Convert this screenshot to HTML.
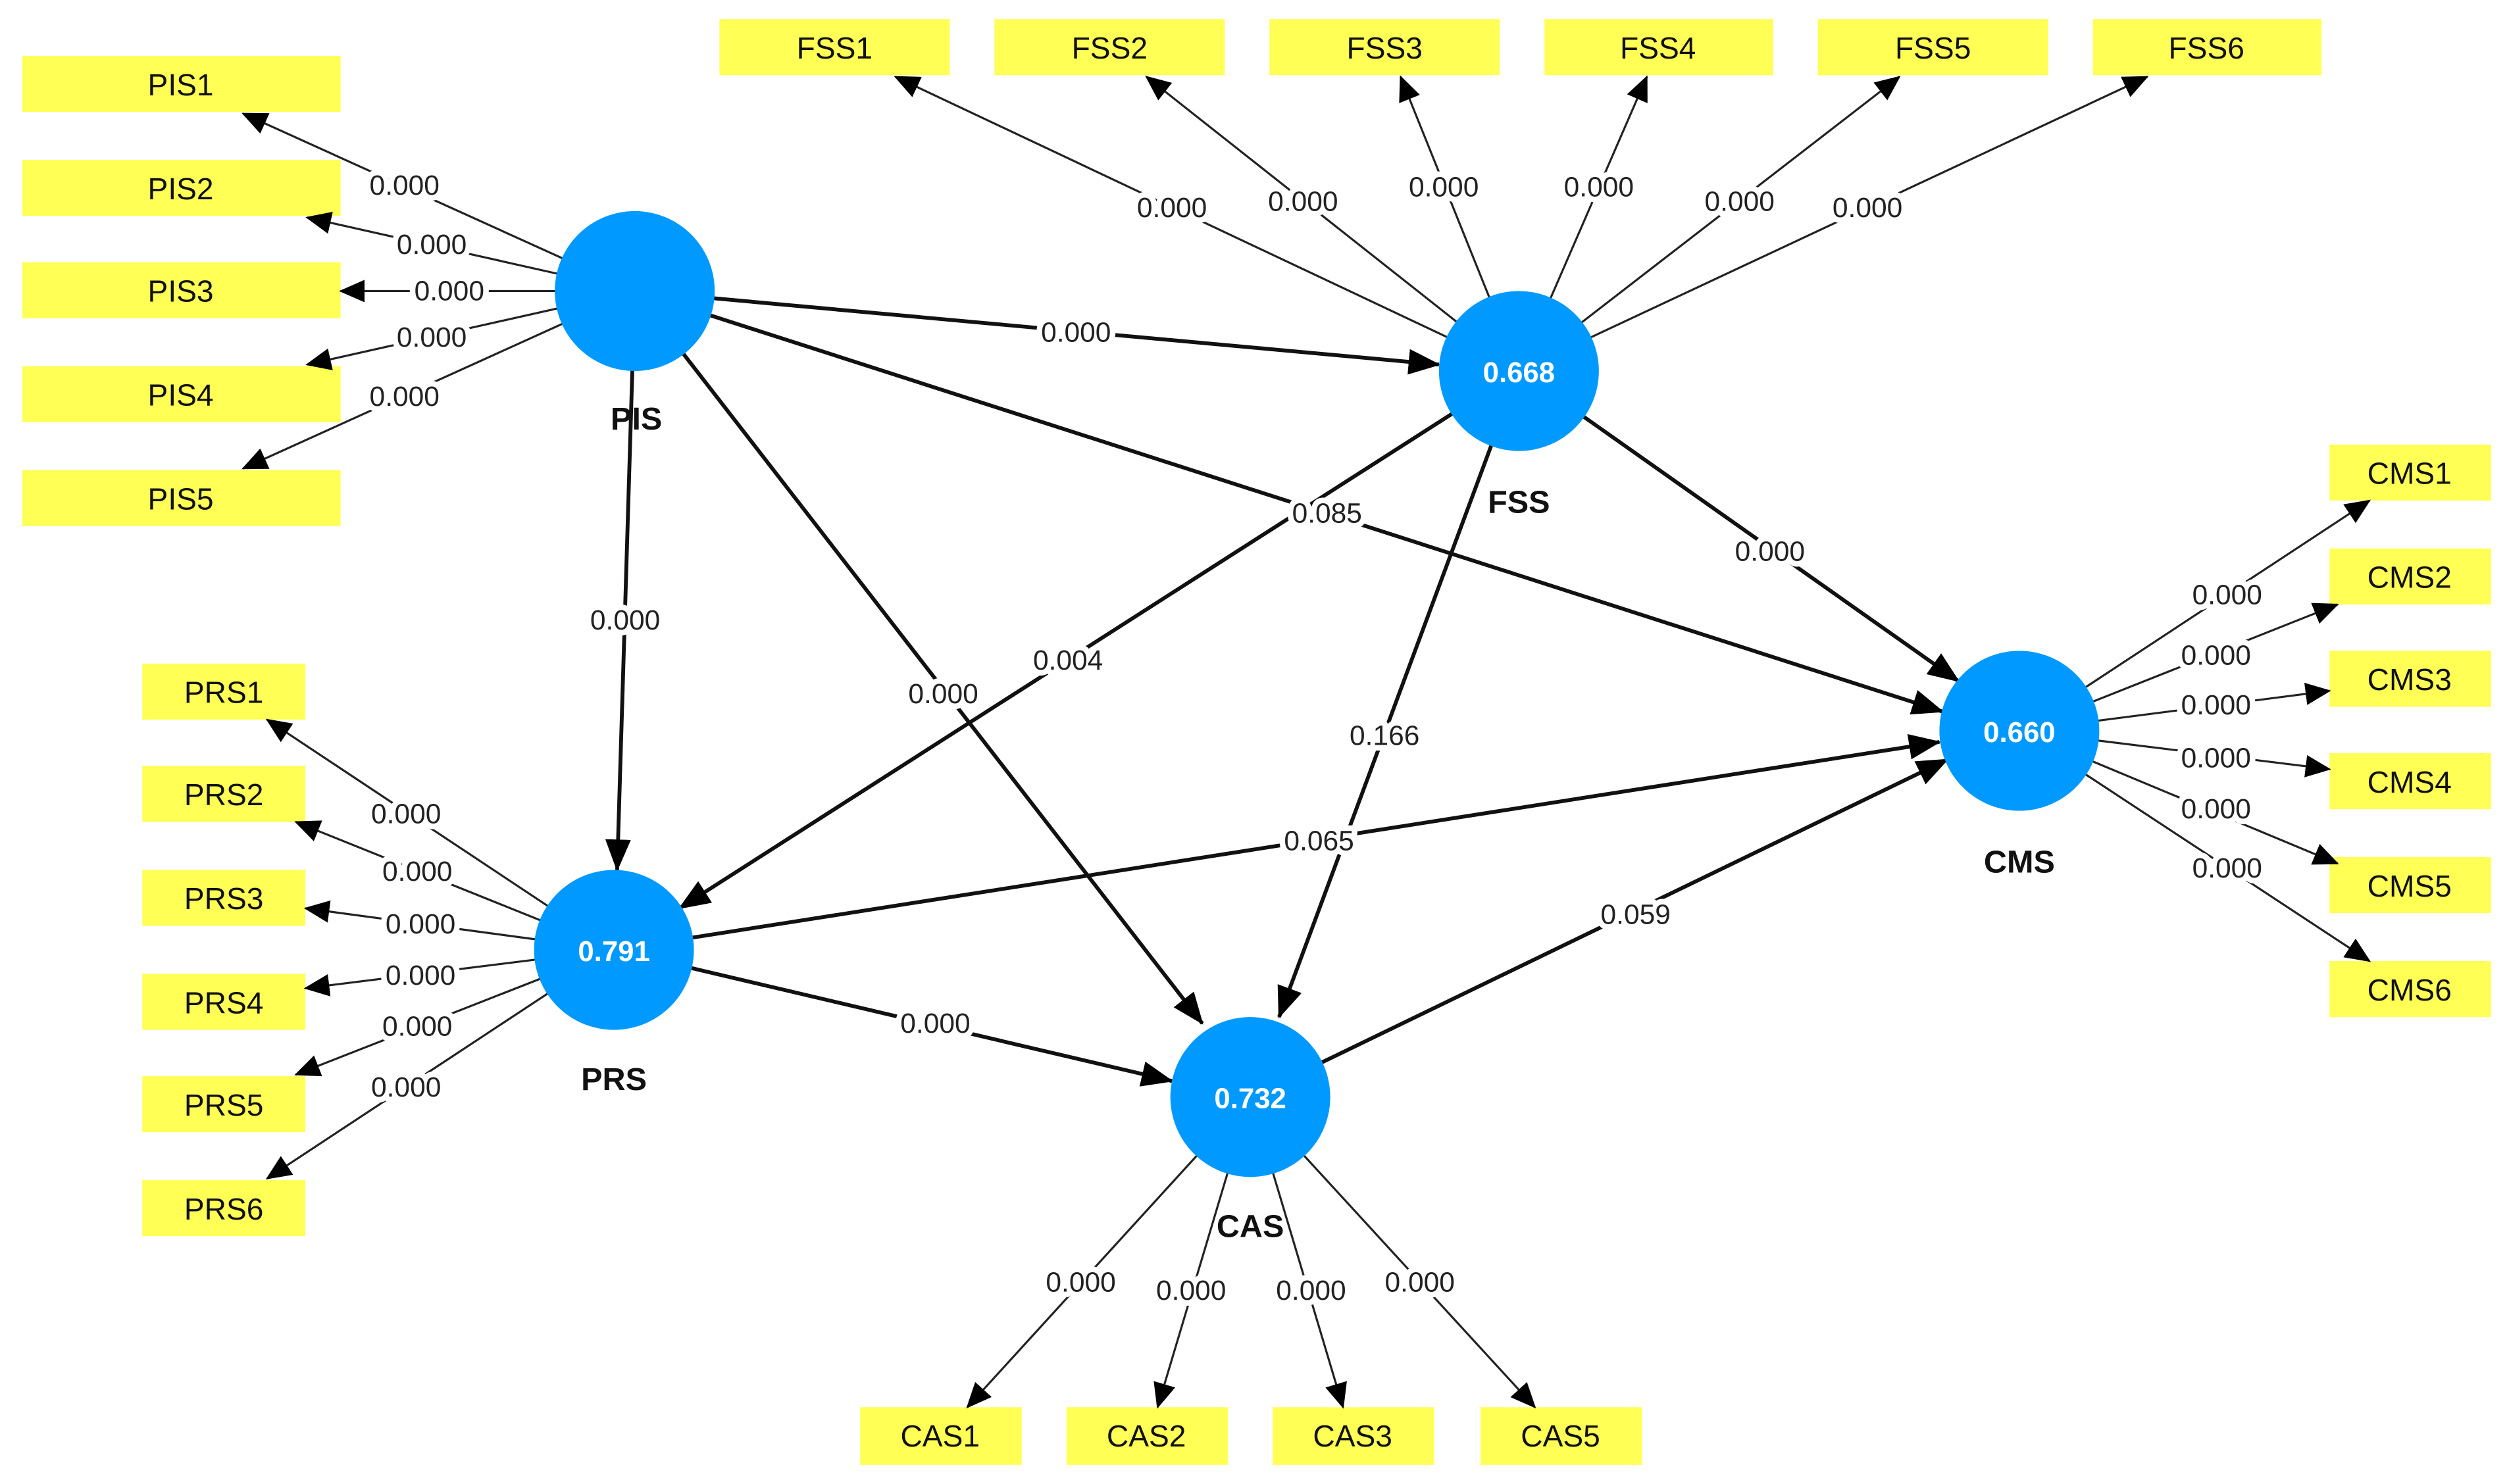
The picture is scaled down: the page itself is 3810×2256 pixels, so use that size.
<!DOCTYPE html>
<html><head><meta charset="utf-8"><style>
html,body{margin:0;padding:0;background:#fff;}
svg{display:block;}
text{font-family:"Liberation Sans",sans-serif;}
.l{font-size:17.5px;fill:#222;text-anchor:middle;dominant-baseline:central;paint-order:stroke;stroke:#fff;stroke-width:7px;stroke-linejoin:round;}
.b{font-size:19px;fill:#111;text-anchor:middle;dominant-baseline:central;}
.n{font-size:20px;font-weight:bold;fill:#111;text-anchor:middle;dominant-baseline:central;}
.c{font-size:18px;font-weight:bold;fill:#fff;text-anchor:middle;dominant-baseline:central;}
.t{stroke:#222;stroke-width:1.3;marker-end:url(#a);fill:none;}
.s{stroke:#111;stroke-width:2.4;marker-end:url(#A);fill:none;}
rect{fill:#ffff55;}
</style></head><body>
<svg width="3810" height="2256" viewBox="0 0 1568 928" preserveAspectRatio="none" xmlns="http://www.w3.org/2000/svg">
<defs>
<marker id="a" markerUnits="userSpaceOnUse" markerWidth="16" markerHeight="14" refX="15" refY="7" orient="auto"><path d="M0,0 L16,7 L0,14 z" fill="#000"/></marker>
<marker id="A" markerUnits="userSpaceOnUse" markerWidth="20" markerHeight="16" refX="19" refY="8" orient="auto"><path d="M0,0 L20,8 L0,16 z" fill="#000"/></marker>
</defs>
<!-- boxes -->
<rect x="14" y="35" width="199" height="35"/><text class="b" x="113" y="53">PIS1</text>
<rect x="14" y="100" width="199" height="35"/><text class="b" x="113" y="118">PIS2</text>
<rect x="14" y="164" width="199" height="35"/><text class="b" x="113" y="182">PIS3</text>
<rect x="14" y="229" width="199" height="35"/><text class="b" x="113" y="247">PIS4</text>
<rect x="14" y="294" width="199" height="35"/><text class="b" x="113" y="312">PIS5</text>
<rect x="450" y="12" width="144" height="35"/><text class="b" x="522" y="30">FSS1</text>
<rect x="622" y="12" width="144" height="35"/><text class="b" x="694" y="30">FSS2</text>
<rect x="794" y="12" width="144" height="35"/><text class="b" x="866" y="30">FSS3</text>
<rect x="966" y="12" width="143" height="35"/><text class="b" x="1037" y="30">FSS4</text>
<rect x="1137" y="12" width="144" height="35"/><text class="b" x="1209" y="30">FSS5</text>
<rect x="1309" y="12" width="143" height="35"/><text class="b" x="1380" y="30">FSS6</text>
<rect x="1457" y="278" width="101" height="35"/><text class="b" x="1507" y="296">CMS1</text>
<rect x="1457" y="343" width="101" height="35"/><text class="b" x="1507" y="361">CMS2</text>
<rect x="1457" y="407" width="101" height="35"/><text class="b" x="1507" y="425">CMS3</text>
<rect x="1457" y="471" width="101" height="35"/><text class="b" x="1507" y="489">CMS4</text>
<rect x="1457" y="536" width="101" height="35"/><text class="b" x="1507" y="554">CMS5</text>
<rect x="1457" y="601" width="101" height="35"/><text class="b" x="1507" y="619">CMS6</text>
<rect x="89" y="415" width="102" height="35"/><text class="b" x="140" y="433">PRS1</text>
<rect x="89" y="479" width="102" height="35"/><text class="b" x="140" y="497">PRS2</text>
<rect x="89" y="544" width="102" height="35"/><text class="b" x="140" y="562">PRS3</text>
<rect x="89" y="609" width="102" height="35"/><text class="b" x="140" y="627">PRS4</text>
<rect x="89" y="673" width="102" height="35"/><text class="b" x="140" y="691">PRS5</text>
<rect x="89" y="738" width="102" height="35"/><text class="b" x="140" y="756">PRS6</text>
<rect x="538" y="880" width="101" height="36"/><text class="b" x="588" y="898">CAS1</text>
<rect x="667" y="880" width="101" height="36"/><text class="b" x="717" y="898">CAS2</text>
<rect x="796" y="880" width="101" height="36"/><text class="b" x="846" y="898">CAS3</text>
<rect x="926" y="880" width="101" height="36"/><text class="b" x="976" y="898">CAS5</text>
<!-- outer loadings -->
<line class="t" x1="397" y1="182" x2="152" y2="71"/>
<line class="t" x1="397" y1="182" x2="192" y2="136"/>
<line class="t" x1="397" y1="182" x2="213" y2="182"/>
<line class="t" x1="397" y1="182" x2="192" y2="228"/>
<line class="t" x1="397" y1="182" x2="152" y2="293"/>
<line class="t" x1="950" y1="232" x2="560" y2="48"/>
<line class="t" x1="950" y1="232" x2="717" y2="48"/>
<line class="t" x1="950" y1="232" x2="876" y2="48"/>
<line class="t" x1="950" y1="232" x2="1030" y2="48"/>
<line class="t" x1="950" y1="232" x2="1188" y2="48"/>
<line class="t" x1="950" y1="232" x2="1343" y2="48"/>
<line class="t" x1="1263" y1="457" x2="1482" y2="313"/>
<line class="t" x1="1263" y1="457" x2="1462" y2="378"/>
<line class="t" x1="1263" y1="457" x2="1457" y2="432"/>
<line class="t" x1="1263" y1="457" x2="1457" y2="481"/>
<line class="t" x1="1263" y1="457" x2="1462" y2="540"/>
<line class="t" x1="1263" y1="457" x2="1482" y2="601"/>
<line class="t" x1="384" y1="594" x2="167" y2="450"/>
<line class="t" x1="384" y1="594" x2="185" y2="514"/>
<line class="t" x1="384" y1="594" x2="191" y2="568"/>
<line class="t" x1="384" y1="594" x2="191" y2="618"/>
<line class="t" x1="384" y1="594" x2="185" y2="672"/>
<line class="t" x1="384" y1="594" x2="167" y2="737"/>
<line class="t" x1="782" y1="686" x2="605" y2="880"/>
<line class="t" x1="782" y1="686" x2="724" y2="880"/>
<line class="t" x1="782" y1="686" x2="840" y2="880"/>
<line class="t" x1="782" y1="686" x2="960" y2="880"/>
<!-- structural -->
<line class="s" x1="397" y1="182" x2="900" y2="228"/>
<line class="s" x1="397" y1="182" x2="386" y2="544"/>
<line class="s" x1="397" y1="182" x2="752" y2="640"/>
<line class="s" x1="397" y1="182" x2="1215" y2="445"/>
<line class="s" x1="950" y1="232" x2="425" y2="568"/>
<line class="s" x1="950" y1="232" x2="800" y2="636"/>
<line class="s" x1="950" y1="232" x2="1225" y2="426"/>
<line class="s" x1="384" y1="594" x2="1213" y2="464"/>
<line class="s" x1="384" y1="594" x2="733" y2="676"/>
<line class="s" x1="782" y1="686" x2="1218" y2="475"/>
<!-- circles -->
<circle cx="397" cy="182" r="50" fill="#0099ff"/>
<circle cx="950" cy="232" r="50" fill="#0099ff"/><text class="c" x="950" y="233">0.668</text>
<circle cx="1263" cy="457" r="50" fill="#0099ff"/><text class="c" x="1263" y="458">0.660</text>
<circle cx="384" cy="594" r="50" fill="#0099ff"/><text class="c" x="384" y="595">0.791</text>
<circle cx="782" cy="686" r="50" fill="#0099ff"/><text class="c" x="782" y="687">0.732</text>
<text class="n" x="398" y="262">PIS</text>
<text class="n" x="950" y="314">FSS</text>
<text class="n" x="1263" y="539">CMS</text>
<text class="n" x="384" y="675">PRS</text>
<text class="n" x="782" y="767">CAS</text>
<!-- labels -->
<text class="l" x="253" y="116">0.000</text>
<text class="l" x="270" y="153">0.000</text>
<text class="l" x="281" y="182">0.000</text>
<text class="l" x="270" y="211">0.000</text>
<text class="l" x="253" y="248">0.000</text>
<text class="l" x="733" y="130">0.000</text>
<text class="l" x="815" y="126">0.000</text>
<text class="l" x="903" y="117">0.000</text>
<text class="l" x="1000" y="117">0.000</text>
<text class="l" x="1088" y="126">0.000</text>
<text class="l" x="1168" y="130">0.000</text>
<text class="l" x="1393" y="372">0.000</text>
<text class="l" x="1386" y="410">0.000</text>
<text class="l" x="1386" y="441">0.000</text>
<text class="l" x="1386" y="474">0.000</text>
<text class="l" x="1386" y="506">0.000</text>
<text class="l" x="1393" y="543">0.000</text>
<text class="l" x="254" y="509">0.000</text>
<text class="l" x="261" y="545">0.000</text>
<text class="l" x="263" y="578">0.000</text>
<text class="l" x="263" y="610">0.000</text>
<text class="l" x="261" y="642">0.000</text>
<text class="l" x="254" y="680">0.000</text>
<text class="l" x="676" y="802">0.000</text>
<text class="l" x="745" y="807">0.000</text>
<text class="l" x="820" y="807">0.000</text>
<text class="l" x="888" y="802">0.000</text>
<text class="l" x="673" y="208">0.000</text>
<text class="l" x="391" y="388">0.000</text>
<text class="l" x="590" y="434">0.000</text>
<text class="l" x="830" y="321">0.085</text>
<text class="l" x="668" y="413">0.004</text>
<text class="l" x="866" y="460">0.166</text>
<text class="l" x="1107" y="345">0.000</text>
<text class="l" x="825" y="526">0.065</text>
<text class="l" x="585" y="640">0.000</text>
<text class="l" x="1023" y="572">0.059</text>
</svg>
</body></html>
